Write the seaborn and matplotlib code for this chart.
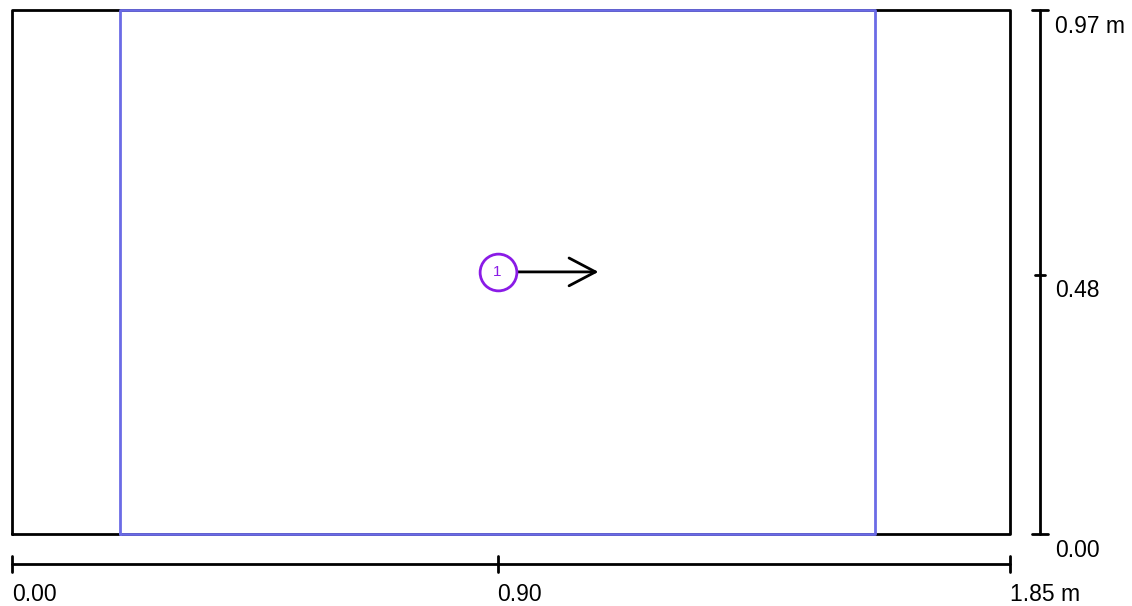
import numpy as np
import pandas as pd
import matplotlib
matplotlib.use("Agg")
import matplotlib.pyplot as plt
import seaborn as sns

# room / panel dimensions in metres
room_width = 1.85
room_height = 0.97
panel_x = [0.20, 1.60]

# marker "1" with its direction arrow
marker_x = 0.90
marker_y = 0.485
marker_label = "1"
arrow_len = 0.187

# dimension ticks
x_ticks = [0.00, 0.90, 1.85]
x_tick_labels = ["0.00", "0.90", "1.85 m"]
y_ticks = [0.00, 0.48, 0.97]
y_tick_labels = ["0.00", "0.48", "0.97 m"]

sns.set_style("white")
plt.rcParams["font.family"] = ["Liberation Sans", "DejaVu Sans"]
plt.rcParams["text.color"] = "black"

fig = plt.figure(figsize=(11.32, 6.06), dpi=100)
ax = fig.add_axes([0, 0, 1, 1])
px = 1 / 539.5  # data units per pixel
ax.set_xlim(-12 * px, -12 * px + 1132 * px)
ax.set_ylim(room_height - 606 / 540 + 10 / 540, room_height + 10 / 540)
ax.axis("off")

# outer room outline
room = pd.DataFrame({"x": [0, room_width, room_width, 0, 0],
                     "y": [0, 0, room_height, room_height, 0]})
sns.lineplot(data=room, x="x", y="y", sort=False, estimator=None,
             color="black", lw=2, ax=ax)

# blue panel (closed, drawn over the room outline)
panel = pd.DataFrame({"x": [panel_x[0], panel_x[0], panel_x[1], panel_x[1], panel_x[0]],
                      "y": [0, room_height, room_height, 0, 0]})
sns.lineplot(data=panel, x="x", y="y", sort=False, estimator=None,
             color="#6b6be6", lw=2, ax=ax)

# marker circle + label
ax.scatter([marker_x], [marker_y], s=700, facecolor="white",
           edgecolor="#8a1be6", linewidth=2, zorder=5)
ax.text(marker_x, marker_y, marker_label, ha="center", va="center",
        color="#8a1be6", fontsize=11, zorder=6)
ax.annotate("", xy=(marker_x + arrow_len, marker_y),
            xytext=(marker_x + 18 * px, marker_y),
            arrowprops=dict(arrowstyle="->, head_length=0.95, head_width=0.5",
                            mutation_scale=20, lw=2, color="black",
                            shrinkA=0, shrinkB=0))

# bottom dimension line
dim_y = -30 / 540
ax.plot([0, room_width], [dim_y, dim_y], color="black", lw=2)
for t, lab in zip(x_ticks, x_tick_labels):
    ax.plot([t, t], [dim_y - 8 / 540, dim_y + 8 / 540], color="black", lw=2)
    ax.annotate(lab, (t, dim_y), xytext=(0, -14), textcoords="offset points",
                ha="left", va="top", fontsize=16.5)

# right dimension line
dim_x = room_width + 30 * px
ax.plot([dim_x, dim_x], [0, room_height], color="black", lw=2)
for t, lab in zip(y_ticks, y_tick_labels):
    half = 5 if 0 < t < room_height else 8
    ax.plot([dim_x - half * px, dim_x + half * px], [t, t], color="black", lw=2)
    ax.annotate(lab, (dim_x, t), xytext=(11, -3.5), textcoords="offset points",
                ha="left", va="top", fontsize=16.5)

fig.savefig("out.png", dpi=100, facecolor="white")
